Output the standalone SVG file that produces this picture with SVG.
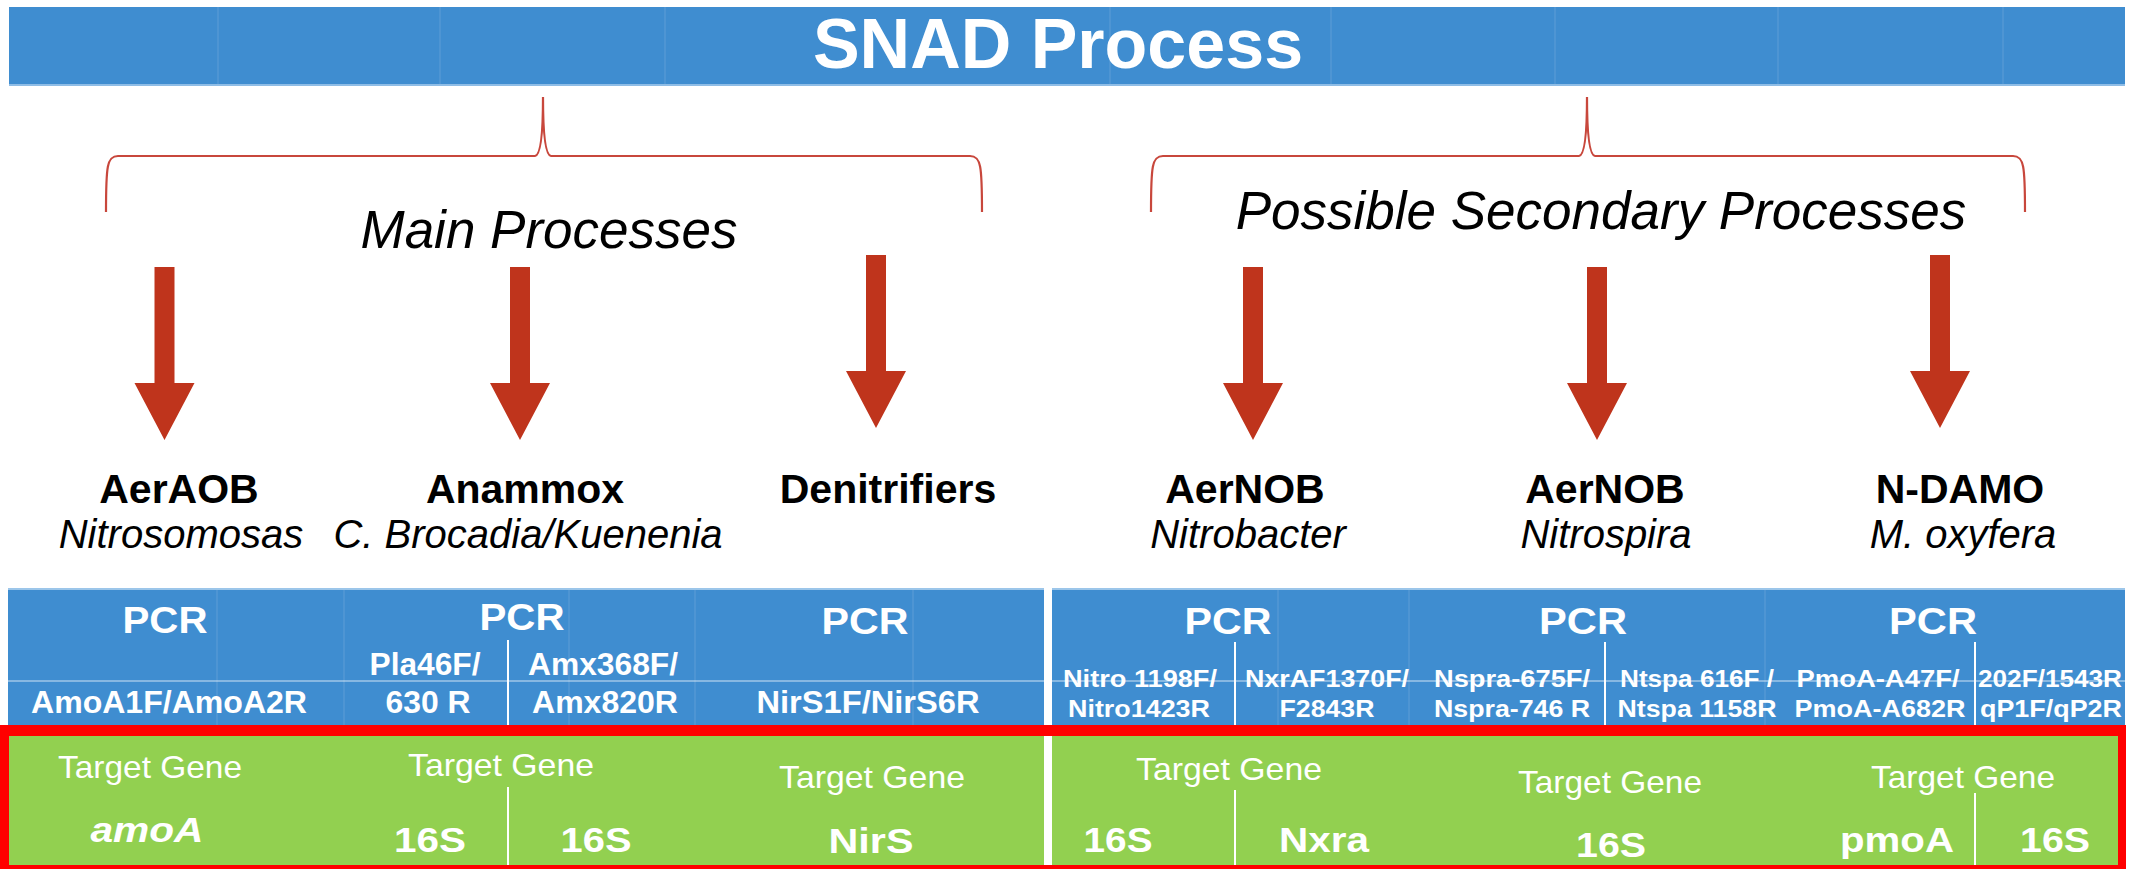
<svg xmlns="http://www.w3.org/2000/svg" width="2138" height="869" viewBox="0 0 2138 869">
  <style>
    .bar { fill: #3f8dd0; }
    .faint { stroke: #ffffff; stroke-opacity: 0.08; stroke-width: 2; }
    .title { font-family: "Liberation Sans", Arial, sans-serif; font-weight: bold; font-size: 70px; fill: #ffffff; text-anchor: middle; }
    .group { font-family: "Liberation Sans", Arial, sans-serif; font-style: italic; font-size: 53px; fill: #000000; text-anchor: middle; }
    .brace { fill: none; stroke: #c8473c; stroke-width: 2.2; }
    .arrow { fill: #bf341c; }
    .name { font-family: "Liberation Sans", Arial, sans-serif; font-weight: bold; font-size: 41px; fill: #000000; text-anchor: middle; }
    .genus { font-family: "Liberation Sans", Arial, sans-serif; font-style: italic; font-size: 40px; fill: #000000; text-anchor: middle; }
    .cell { font-family: "Liberation Sans", Arial, sans-serif; font-weight: bold; fill: #ffffff; text-anchor: middle; }
    .pcr { font-size: 37px; }
    .primer { font-size: 32px; }
    .primer-s { font-size: 24px; }
    .tg { font-size: 32px; font-weight: normal; }
    .gene { font-size: 35px; }
    .sep { stroke: #ffffff; stroke-width: 2; }
  </style>

  <!-- header bar -->
  <g id="title">
    <rect class="bar" x="9" y="7" width="2116" height="79"/>
    <rect x="9" y="84" width="2116" height="2" fill="#8fbde6"/>
    <g class="faint">
      <line x1="218" y1="7" x2="218" y2="84"/>
      <line x1="440" y1="7" x2="440" y2="84"/>
      <line x1="665" y1="7" x2="665" y2="84"/>
      <line x1="1110" y1="7" x2="1110" y2="84"/>
      <line x1="1331" y1="7" x2="1331" y2="84"/>
      <line x1="1555" y1="7" x2="1555" y2="84"/>
      <line x1="1778" y1="7" x2="1778" y2="84"/>
      <line x1="2003" y1="7" x2="2003" y2="84"/>
    </g>
    <text class="title" x="1058" y="68">SNAD Process</text>
  </g>

  <!-- group captions -->
  <g id="main-processes">
    <text class="group" x="549" y="248">Main Processes</text>
  </g>
  <g id="secondary-processes">
    <text class="group" x="1601" y="229">Possible Secondary Processes</text>
  </g>

  <!-- organism labels -->
  <g id="aeraob">
    <text class="name" x="179" y="503">AerAOB</text>
    <text class="genus" x="181" y="548">Nitrosomosas</text>
  </g>
  <g id="anammox">
    <text class="name" x="525" y="503">Anammox</text>
    <text class="genus" x="528" y="548">C. Brocadia/Kuenenia</text>
  </g>
  <g id="denitrifiers">
    <text class="name" x="888" y="503">Denitrifiers</text>
  </g>
  <g id="aernob-nitrobacter">
    <text class="name" x="1245" y="503">AerNOB</text>
    <text class="genus" x="1248" y="548">Nitrobacter</text>
  </g>
  <g id="aernob-nitrospira">
    <text class="name" x="1605" y="503">AerNOB</text>
    <text class="genus" x="1606" y="548">Nitrospira</text>
  </g>
  <g id="ndamo">
    <text class="name" x="1960" y="503">N-DAMO</text>
    <text class="genus" x="1963" y="548">M. oxyfera</text>
  </g>

  <!-- PCR primer table -->
  <g id="pcr-table">
    <rect class="bar" x="8" y="588" width="2117" height="137"/>
    <rect x="8" y="588" width="2117" height="2" fill="#9cc6ea"/>
    <g class="faint">
      <line x1="217" y1="590" x2="217" y2="725"/>
      <line x1="344" y1="590" x2="344" y2="725"/>
      <line x1="569" y1="590" x2="569" y2="725"/>
      <line x1="695" y1="590" x2="695" y2="725"/>
      <line x1="913" y1="590" x2="913" y2="725"/>
      <line x1="1278" y1="590" x2="1278" y2="725"/>
      <line x1="1409" y1="590" x2="1409" y2="725"/>
      <line x1="1765" y1="590" x2="1765" y2="725"/>
    </g>
    <line x1="8" y1="681" x2="2125" y2="681" stroke="#ffffff" stroke-opacity="0.75" stroke-width="1.2"/>

    <text class="cell pcr" x="165" y="633" textLength="85" lengthAdjust="spacingAndGlyphs">PCR</text>
    <text class="cell pcr" x="522" y="630" textLength="85" lengthAdjust="spacingAndGlyphs">PCR</text>
    <text class="cell pcr" x="865" y="634" textLength="87" lengthAdjust="spacingAndGlyphs">PCR</text>
    <text class="cell pcr" x="1228" y="634" textLength="87" lengthAdjust="spacingAndGlyphs">PCR</text>
    <text class="cell pcr" x="1583" y="634" textLength="88" lengthAdjust="spacingAndGlyphs">PCR</text>
    <text class="cell pcr" x="1933" y="634" textLength="88" lengthAdjust="spacingAndGlyphs">PCR</text>

    <text class="cell primer" x="169" y="713" textLength="276" lengthAdjust="spacingAndGlyphs">AmoA1F/AmoA2R</text>
    <text class="cell primer" x="425" y="675" textLength="111" lengthAdjust="spacingAndGlyphs">Pla46F/</text>
    <text class="cell primer" x="428" y="713" textLength="85" lengthAdjust="spacingAndGlyphs">630 R</text>
    <text class="cell primer" x="603" y="675" textLength="150" lengthAdjust="spacingAndGlyphs">Amx368F/</text>
    <text class="cell primer" x="605" y="713" textLength="146" lengthAdjust="spacingAndGlyphs">Amx820R</text>
    <text class="cell primer" x="868" y="713" textLength="223" lengthAdjust="spacingAndGlyphs">NirS1F/NirS6R</text>

    <text class="cell primer-s" x="1140" y="687" textLength="154" lengthAdjust="spacingAndGlyphs">Nitro 1198F/</text>
    <text class="cell primer-s" x="1139" y="717" textLength="142" lengthAdjust="spacingAndGlyphs">Nitro1423R</text>
    <text class="cell primer-s" x="1327" y="687" textLength="164" lengthAdjust="spacingAndGlyphs">NxrAF1370F/</text>
    <text class="cell primer-s" x="1327" y="717" textLength="95" lengthAdjust="spacingAndGlyphs">F2843R</text>
    <text class="cell primer-s" x="1512" y="687" textLength="156" lengthAdjust="spacingAndGlyphs">Nspra-675F/</text>
    <text class="cell primer-s" x="1512" y="717" textLength="156" lengthAdjust="spacingAndGlyphs">Nspra-746 R</text>
    <text class="cell primer-s" x="1697" y="687" textLength="154" lengthAdjust="spacingAndGlyphs">Ntspa 616F /</text>
    <text class="cell primer-s" x="1697" y="717" textLength="159" lengthAdjust="spacingAndGlyphs">Ntspa 1158R</text>
    <text class="cell primer-s" x="1878" y="687" textLength="163" lengthAdjust="spacingAndGlyphs">PmoA-A47F/</text>
    <text class="cell primer-s" x="1880" y="717" textLength="171" lengthAdjust="spacingAndGlyphs">PmoA-A682R</text>
    <text class="cell primer-s" x="2050" y="687" textLength="144" lengthAdjust="spacingAndGlyphs">202F/1543R</text>
    <text class="cell primer-s" x="2051" y="717" textLength="142" lengthAdjust="spacingAndGlyphs">qP1F/qP2R</text>
  </g>

  <!-- target gene band -->
  <g id="target-genes">
    <rect x="0" y="725" width="2126" height="144" fill="#92d050"/>
    <text class="cell tg" x="150" y="778" textLength="184" lengthAdjust="spacingAndGlyphs">Target Gene</text>
    <text class="cell tg" x="501" y="776" textLength="186" lengthAdjust="spacingAndGlyphs">Target Gene</text>
    <text class="cell tg" x="872" y="788" textLength="186" lengthAdjust="spacingAndGlyphs">Target Gene</text>
    <text class="cell tg" x="1229" y="780" textLength="186" lengthAdjust="spacingAndGlyphs">Target Gene</text>
    <text class="cell tg" x="1610" y="793" textLength="184" lengthAdjust="spacingAndGlyphs">Target Gene</text>
    <text class="cell tg" x="1963" y="788" textLength="184" lengthAdjust="spacingAndGlyphs">Target Gene</text>

    <text class="cell gene" x="147" y="842" font-style="italic" textLength="113" lengthAdjust="spacingAndGlyphs">amoA</text>
    <text class="cell gene" x="430" y="852" textLength="72" lengthAdjust="spacingAndGlyphs">16S</text>
    <text class="cell gene" x="596" y="852" textLength="71" lengthAdjust="spacingAndGlyphs">16S</text>
    <text class="cell gene" x="871" y="853" textLength="85" lengthAdjust="spacingAndGlyphs">NirS</text>
    <text class="cell gene" x="1118" y="852" textLength="69" lengthAdjust="spacingAndGlyphs">16S</text>
    <text class="cell gene" x="1324" y="852" textLength="90" lengthAdjust="spacingAndGlyphs">Nxra</text>
    <text class="cell gene" x="1611" y="857" textLength="70" lengthAdjust="spacingAndGlyphs">16S</text>
    <text class="cell gene" x="1897" y="852" textLength="114" lengthAdjust="spacingAndGlyphs">pmoA</text>
    <text class="cell gene" x="2055" y="852" textLength="70" lengthAdjust="spacingAndGlyphs">16S</text>
  </g>

  <!-- cell dividers -->
  <g id="dividers">
    <rect x="1044" y="588" width="8" height="281" fill="#ffffff"/>
    <line class="sep" x1="508" y1="640" x2="508" y2="725"/>
    <line class="sep" x1="508" y1="787" x2="508" y2="865"/>
    <line class="sep" x1="1235" y1="642" x2="1235" y2="725"/>
    <line class="sep" x1="1235" y1="790" x2="1235" y2="865"/>
    <line class="sep" x1="1605" y1="642" x2="1605" y2="725"/>
    <line class="sep" x1="1975" y1="642" x2="1975" y2="725"/>
    <line class="sep" x1="1975" y1="793" x2="1975" y2="865"/>
  </g>

  <!-- highlight frame round the target gene band -->
  <g id="highlight-frame">
    <path fill="#ff0000" fill-rule="evenodd" d="M0,725 H2126 V869 H0 Z M9,736 V865 H2118 V736 Z"/>
  </g>

  <!-- braces and arrows -->
  <g id="connectors">
    <path class="brace" d="M106,212 C106,166 107,156 118,156 L535,156 Q543,155 543,97 Q543,155 551,156 L970,156 C981,156 982,166 982,212"/>
    <path class="brace" d="M1151,212 C1151,166 1152,156 1163,156 L1579,156 Q1587,155 1587,97 Q1587,155 1595,156 L2013,156 C2024,156 2025,166 2025,212"/>
    <path class="arrow" d="M154.5,267 H174.5 V383 H194.5 L164.5,440 L134.5,383 H154.5 Z"/>
    <path class="arrow" d="M510,267 H530 V383 H550 L520,440 L490,383 H510 Z"/>
    <path class="arrow" d="M866,255 H886 V371 H906 L876,428 L846,371 H866 Z"/>
    <path class="arrow" d="M1243,267 H1263 V383 H1283 L1253,440 L1223,383 H1243 Z"/>
    <path class="arrow" d="M1587,267 H1607 V383 H1627 L1597,440 L1567,383 H1587 Z"/>
    <path class="arrow" d="M1930,255 H1950 V371 H1970 L1940,428 L1910,371 H1930 Z"/>
  </g>
</svg>
